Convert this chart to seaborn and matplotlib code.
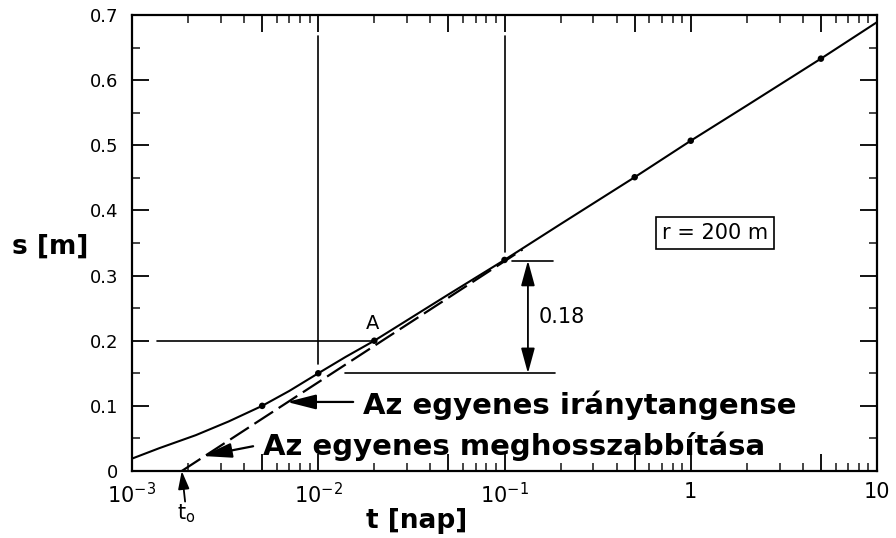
import matplotlib
matplotlib.use("Agg")
import matplotlib.pyplot as plt
import seaborn as sns
import pandas as pd

# Drawdown s [m] versus time t [nap] at r = 200 m
curve_t = [0.001, 0.0014, 0.0022, 0.0033, 0.005, 0.007, 0.01, 0.014, 0.02,
           0.05, 0.1, 0.2, 0.5, 1.0, 2.0, 5.0, 10.0]
curve_s = [0.019, 0.035, 0.055, 0.076, 0.100, 0.123, 0.150, 0.175, 0.200,
           0.271, 0.324, 0.379, 0.451, 0.507, 0.561, 0.633, 0.689]

# measured points on the curve
obs_t = [0.005, 0.01, 0.02, 0.1, 0.5, 1.0, 5.0]
obs_s = [0.100, 0.150, 0.200, 0.324, 0.451, 0.507, 0.633]

# straight line fitted to the late data, extended down to s = 0 (t0)
line_t = [0.00185, 0.125]
line_s = [0.0, 0.34]

t0 = 0.00185
slope_label = "0.18"
slope_top, slope_bottom = 0.323, 0.150
point_a = (0.02, 0.200)

x_ticks = [0.001, 0.005, 0.01, 0.05, 0.1, 0.5, 1.0, 5.0, 10.0]
x_tick_labels = [r"$10^{-3}$", "", r"$10^{-2}$", "", r"$10^{-1}$", "", "1", "", "10"]
x_minor = [m * d for d in (0.001, 0.01, 0.1, 1.0) for m in (2, 3, 4, 6, 7, 8, 9)]
y_ticks = [0.0, 0.1, 0.2, 0.3, 0.4, 0.5, 0.6, 0.7]
y_tick_labels = ["0", "0.1", "0.2", "0.3", "0.4", "0.5", "0.6", "0.7"]
y_minor = [0.05, 0.15, 0.25, 0.35, 0.45, 0.55, 0.65]

sns.set_theme(style="ticks")
plt.rcParams["font.family"] = ["DejaVu Sans"]
plt.rcParams["mathtext.default"] = "regular"

W, H = 896, 538
fig = plt.figure(figsize=(W / 100, H / 100), dpi=100)
fig.patch.set_facecolor("white")
ax = fig.add_axes([132 / W, (H - 471) / H, 745 / W, 456 / H])
ax.set_facecolor("white")

curve = pd.DataFrame({"t": curve_t, "s": curve_s})
obs = pd.DataFrame({"t": obs_t, "s": obs_s})
line = pd.DataFrame({"t": line_t, "s": line_s})

sns.lineplot(data=curve, x="t", y="s", ax=ax, color="black", lw=1.5,
             sort=False, estimator=None)
ax.plot(line["t"], line["s"], color="black", lw=1.6, ls=(0, (10, 3)))
sns.scatterplot(data=obs, x="t", y="s", ax=ax, color="black", s=22,
                edgecolor="none", zorder=5)

ax.set_xscale("log")
ax.set_xlim(0.001, 10)
ax.set_ylim(0, 0.7)

# construction lines
ax.plot([0.01, 0.01], [0.164, 0.668], color="black", lw=1.2)
ax.plot([0.1, 0.1], [0.336, 0.668], color="black", lw=1.2)
ax.plot([0.00136, point_a[0]], [point_a[1], point_a[1]], color="black", lw=1.2)
ax.plot([0.0139, 0.187], [slope_bottom, slope_bottom], color="black", lw=1.2)
ax.plot([0.1096, 0.182], [slope_top, slope_top], color="black", lw=1.2)

ax.annotate("", xy=(0.1336, slope_top), xytext=(0.1336, slope_bottom),
            arrowprops=dict(arrowstyle="<|-|>,head_length=1.1,head_width=0.3",
                            color="black", lw=1.3, shrinkA=0, shrinkB=0,
                            mutation_scale=14))
ax.text(0.153, (slope_top + slope_bottom) / 2, slope_label,
        fontsize=15, ha="left", va="center", color="black")
ax.text(0.0195, 0.227, "A", fontsize=14, ha="center", va="center", color="black")

ax.text(1.35, 0.365, "r = 200 m", fontsize=15, ha="center", va="center",
        color="black",
        bbox=dict(boxstyle="square,pad=0.3", fc="white", ec="black", lw=1.2))

# explanatory labels with arrows
arrow_style = dict(arrowstyle="-|>,head_length=1.1,head_width=0.28",
                   color="black", lw=1.6, shrinkA=0, shrinkB=0,
                   mutation_scale=16)
ax.annotate("", xy=(0.00679, 0.106), xytext=(0.0154, 0.106),
            arrowprops=arrow_style)
ax.text(0.0174, 0.088, "Az egyenes iránytangense", fontsize=21,
        fontweight="bold", ha="left", va="baseline", color="black")

ax.annotate("", xy=(0.0024, 0.023), xytext=(0.00447, 0.038),
            arrowprops=arrow_style)
ax.text(0.00505, 0.025, "Az egyenes meghosszabbítása", fontsize=21,
        fontweight="bold", ha="left", va="baseline", color="black")

# t0 marker below the axis
ax.annotate("", xy=(t0, 0), xytext=(2.4, -22), textcoords="offset points",
            annotation_clip=False,
            arrowprops=dict(arrowstyle="-|>,head_length=0.9,head_width=0.28",
                            color="black", lw=1.3, shrinkA=0, shrinkB=0,
                            mutation_scale=12))
ax.annotate(r"$t_o$", xy=(t0, 0), xytext=(3, -31), textcoords="offset points",
            annotation_clip=False, fontsize=15, ha="center", va="center",
            color="black")

# axes, ticks
ax.set_xticks(x_ticks)
ax.set_xticklabels(x_tick_labels)
ax.set_xticks(x_minor, minor=True)
ax.set_xticklabels([], minor=True)
ax.set_yticks(y_ticks)
ax.set_yticklabels(y_tick_labels)
ax.set_yticks(y_minor, minor=True)

for side in ("left", "right", "top", "bottom"):
    ax.spines[side].set_visible(True)
    ax.spines[side].set_linewidth(1.6)
    ax.spines[side].set_color("black")

ax.tick_params(axis="x", which="major", direction="in", length=12, width=1.3,
               top=True, bottom=True, labelsize=15, pad=8, colors="black")
ax.tick_params(axis="x", which="minor", direction="in", length=6, width=1.2,
               top=True, bottom=True)
ax.tick_params(axis="y", which="major", direction="in", length=12, width=1.3,
               left=True, right=True, labelsize=13, pad=10, colors="black")
ax.tick_params(axis="y", which="minor", direction="in", length=6, width=1.2,
               left=True, right=True)

ax.set_xlabel("")
ax.set_ylabel("")
fig.text(12 / W, 1 - 247 / H, "s [m]", fontsize=19, fontweight="bold",
         ha="left", va="center", color="black")
fig.text(417 / W, 1 - 521 / H, "t [nap]", fontsize=19, fontweight="bold",
         ha="center", va="center", color="black")

fig.savefig("out.png", dpi=100, facecolor="white")
